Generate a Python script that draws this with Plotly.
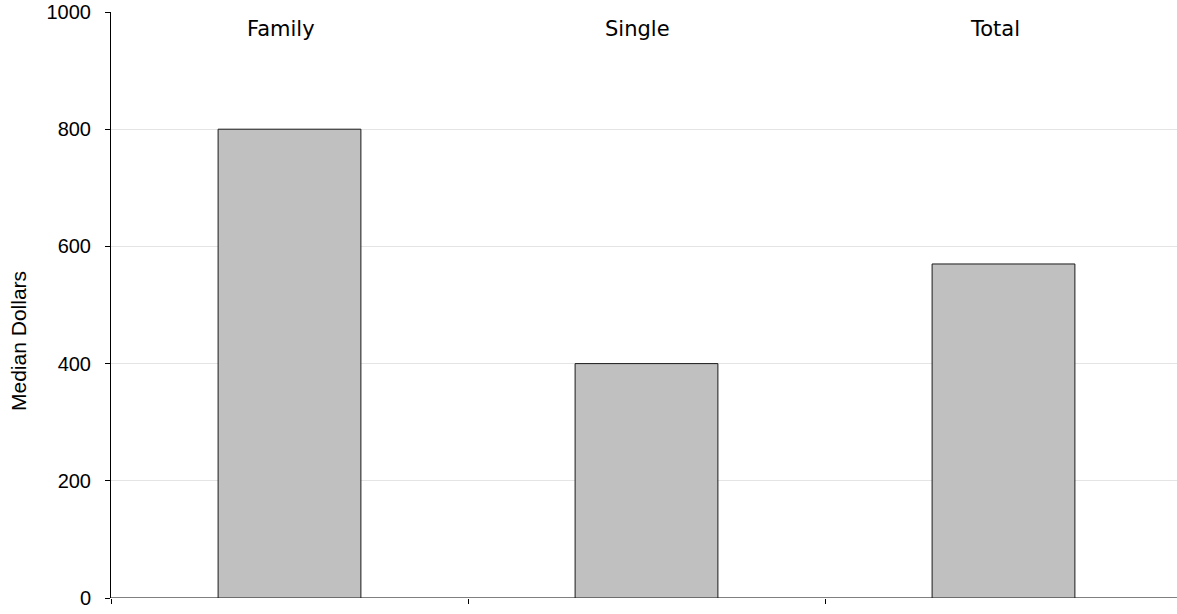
import plotly.graph_objects as go

categories = ["Family", "Single", "Total"]
values = [800, 400, 570]
y_ticks = [0, 200, 400, 600, 800, 1000]
y_title = "Median Dollars"

xs = list(range(len(categories)))

fig = go.Figure()
fig.add_trace(go.Bar(
    x=xs, y=values, width=0.4,
    marker=dict(color="#c0c0c0", line=dict(color="#1a1a1a", width=1)),
    hoverinfo="skip", showlegend=False,
))

for i, c in enumerate(categories):
    fig.add_annotation(x=i, y=1000, xref="x", yref="y", text=c, showarrow=False,
                       yanchor="top", yshift=-3, xshift=-9,
                       font=dict(family="Verdana, DejaVu Sans, sans-serif", size=21, color="black"))

fig.add_annotation(x=0, y=0.4386, xref="paper", yref="paper", text=y_title, showarrow=False,
                   textangle=-90, xanchor="center", yanchor="middle", xshift=-92,
                   font=dict(family="Arial, Liberation Sans, sans-serif", size=21, color="black"))

fig.update_layout(
    width=1177, height=614,
    margin=dict(l=111, r=0, t=12, b=16),
    plot_bgcolor="white", paper_bgcolor="white",
    font=dict(family="Arial, Liberation Sans, sans-serif", size=20, color="black"),
    xaxis=dict(
        range=[-0.5, 2.486], tickvals=[-0.5, 0.5, 1.5], ticktext=["", "", ""],
        ticks="outside", ticklen=5, tickcolor="black", tickwidth=1,
        showgrid=False, zeroline=False, showline=False,
    ),
    yaxis=dict(
        range=[0, 1000], tickvals=y_ticks,
        ticks="outside", ticklen=5, tickcolor="black", tickwidth=1,
        showline=True, linecolor="black", linewidth=1,
        showgrid=True, gridcolor="#e4e4e4", gridwidth=1,
        zeroline=False, ticklabelstandoff=10,
    ),
)
fig.add_shape(type="line", xref="paper", yref="y", x0=0, x1=1, y0=0, y1=0,
              line=dict(color="#808080", width=2), layer="below")

fig.write_html("out.html", config={"displayModeBar": False},
               post_script="document.body.style.margin='0';")
